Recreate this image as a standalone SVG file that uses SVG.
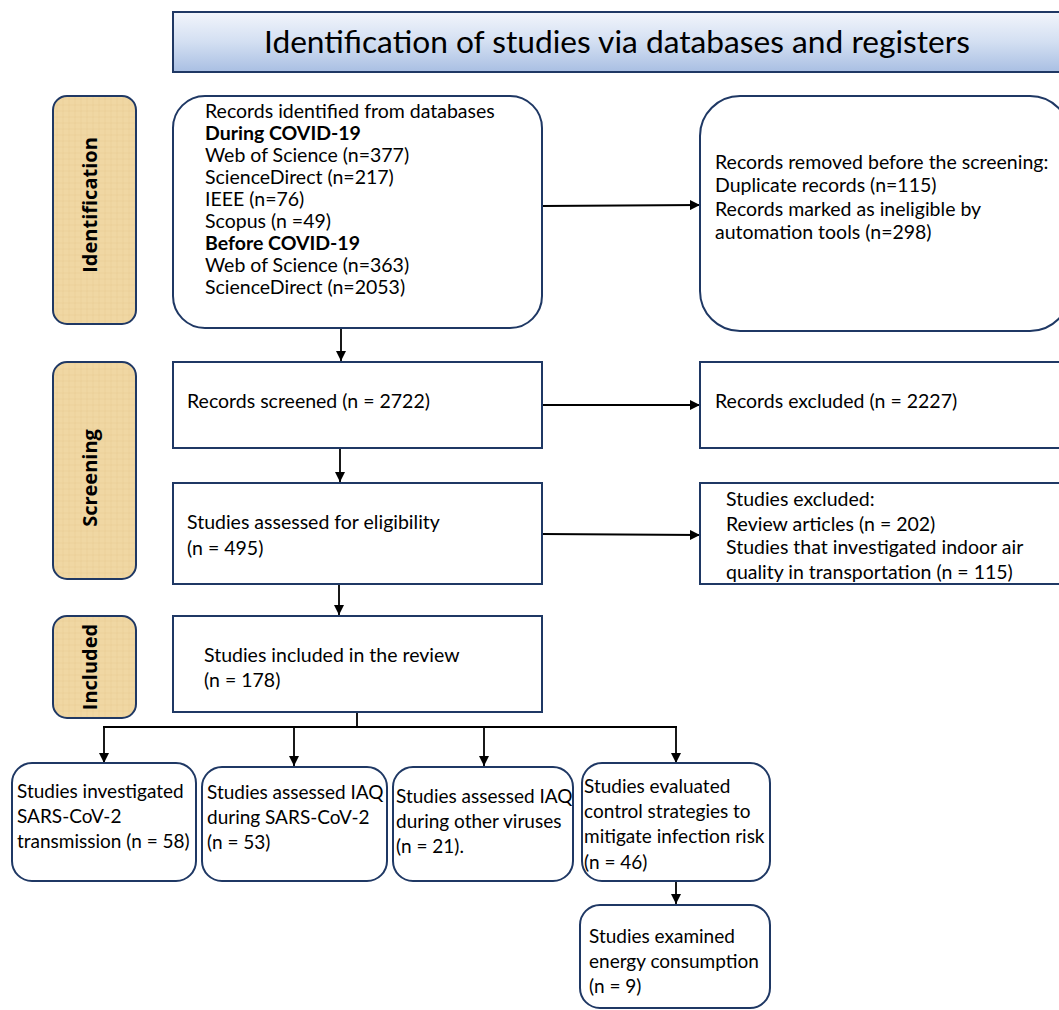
<svg xmlns="http://www.w3.org/2000/svg" width="1059" height="1010" viewBox="0 0 1059 1010">
<defs>
<linearGradient id="titleGrad" x1="0" y1="0" x2="0" y2="1">
<stop offset="0" stop-color="#f2f5fb"/>
<stop offset="0.5" stop-color="#d3dff2"/>
<stop offset="1" stop-color="#a9bfe3"/>
</linearGradient>
<pattern id="papyrus" width="6" height="6" patternUnits="userSpaceOnUse">
<rect width="6" height="6" fill="#f0d7a3"/>
<path d="M0 3H6M3 0V6" stroke="#e6c98e" stroke-width="0.8" opacity="0.6"/>
</pattern>
<marker id="arrow" viewBox="0 0 10 10" refX="10" refY="5" markerWidth="10" markerHeight="10" markerUnits="userSpaceOnUse" orient="auto">
<path d="M0 0L10 5L0 10Z" fill="#000"/>
</marker>
</defs>
<style>
.box{fill:#fff;stroke:#1f3864;stroke-width:2}
.phase{fill:url(#papyrus);stroke:#1f3864;stroke-width:2}
.t{font-family:Lato,"Open Sans","Liberation Sans",sans-serif;font-size:19.5px;fill:#000}
.s{font-size:19px}
.b{font-weight:bold}
.ph{font-family:"Open Sans",Lato,"Liberation Sans",sans-serif;font-size:20px;font-weight:bold;fill:#000}
.conn{stroke:#000;stroke-width:1.8;fill:none}
</style>
<rect width="1059" height="1010" fill="#fff"/>

<g id="title">
<rect x="173" y="12" width="900" height="60" fill="url(#titleGrad)" stroke="#1f3864" stroke-width="2"/>
<text x="617" y="53" text-anchor="middle" font-family="Lato,'Open Sans','Liberation Sans',sans-serif" font-size="31.7">Identification of studies via databases and registers</text>
</g>

<g id="phase-identification">
<rect class="phase" x="53" y="96" width="83" height="228" rx="14"/>
<text class="ph" transform="translate(97 205) rotate(-90)" text-anchor="middle">Identification</text>
</g>
<g id="phase-screening">
<rect class="phase" x="53" y="362" width="83" height="217" rx="14"/>
<text class="ph" transform="translate(97 478) rotate(-90)" text-anchor="middle">Screening</text>
</g>
<g id="phase-included">
<rect class="phase" x="53" y="616" width="83" height="102" rx="14"/>
<text class="ph" transform="translate(97 667) rotate(-90)" text-anchor="middle">Included</text>
</g>

<g id="connectors">
<line class="conn" x1="542" y1="206" x2="700" y2="205" marker-end="url(#arrow)"/>
<line class="conn" x1="341" y1="329" x2="341" y2="361" marker-end="url(#arrow)"/>
<line class="conn" x1="542" y1="405" x2="700" y2="405" marker-end="url(#arrow)"/>
<line class="conn" x1="340" y1="448" x2="340" y2="482" marker-end="url(#arrow)"/>
<line class="conn" x1="542" y1="534" x2="700" y2="535" marker-end="url(#arrow)"/>
<line class="conn" x1="339" y1="585" x2="339" y2="615" marker-end="url(#arrow)"/>
<polyline class="conn" points="357,712 357,727"/>
<line class="conn" x1="103" y1="727" x2="677" y2="727"/>
<line class="conn" x1="104" y1="727" x2="104" y2="763" marker-end="url(#arrow)"/>
<line class="conn" x1="294" y1="727" x2="294" y2="766" marker-end="url(#arrow)"/>
<line class="conn" x1="484" y1="727" x2="484" y2="766" marker-end="url(#arrow)"/>
<line class="conn" x1="676" y1="727" x2="676" y2="763" marker-end="url(#arrow)"/>
<line class="conn" x1="676" y1="882" x2="676" y2="904" marker-end="url(#arrow)"/>
</g>

<g id="records-identified">
<rect class="box" x="173" y="96" width="369" height="232" rx="32"/>
<text class="t" x="205" y="118">Records identified from databases</text>
<text class="t b" x="205" y="140">During COVID-19</text>
<text class="t" x="205" y="162">Web of Science (n=377)</text>
<text class="t" x="205" y="184">ScienceDirect (n=217)</text>
<text class="t" x="205" y="206">IEEE (n=76)</text>
<text class="t" x="205" y="228">Scopus (n =49)</text>
<text class="t b" x="205" y="250">Before COVID-19</text>
<text class="t" x="205" y="272">Web of Science (n=363)</text>
<text class="t" x="205" y="294">ScienceDirect (n=2053)</text>
</g>

<g id="records-removed">
<rect class="box" x="700" y="96" width="370" height="235" rx="40"/>
<text class="t" x="715" y="169">Records removed before the screening:</text>
<text class="t" x="715" y="192">Duplicate records (n=115)</text>
<text class="t" x="715" y="216">Records marked as ineligible by</text>
<text class="t" x="715" y="239">automation tools (n=298)</text>
</g>

<g id="records-screened">
<rect class="box" x="173" y="362" width="369" height="86"/>
<text class="t" x="187" y="408">Records screened (n = 2722)</text>
</g>

<g id="records-excluded">
<rect class="box" x="700" y="362" width="370" height="86"/>
<text class="t" x="715" y="408">Records excluded (n = 2227)</text>
</g>

<g id="studies-assessed">
<rect class="box" x="173" y="483" width="369" height="101"/>
<text class="t" x="187" y="529">Studies assessed for eligibility</text>
<text class="t" x="187" y="555">(n = 495)</text>
</g>

<g id="studies-excluded">
<rect class="box" x="700" y="483" width="370" height="101"/>
<text class="t" x="726" y="506">Studies excluded:</text>
<text class="t" x="726" y="531">Review articles (n = 202)</text>
<text class="t" x="726" y="554">Studies that investigated indoor air</text>
<text class="t" x="726" y="579">quality in transportation (n = 115)</text>
</g>

<g id="studies-included">
<rect class="box" x="173" y="616" width="369" height="96"/>
<text class="t" x="204" y="662">Studies included in the review</text>
<text class="t" x="204" y="687">(n = 178)</text>
</g>

<g id="sars-transmission">
<rect class="box" x="12" y="763" width="184" height="118" rx="20"/>
<text class="t s" x="17" y="798">Studies investigated</text>
<text class="t s" x="17" y="823">SARS-CoV-2</text>
<text class="t s" x="17" y="848">transmission (n = 58)</text>
</g>

<g id="iaq-sars">
<rect class="box" x="202" y="767" width="185" height="114" rx="20"/>
<text class="t s" x="207" y="799">Studies assessed IAQ</text>
<text class="t s" x="207" y="824">during SARS-CoV-2</text>
<text class="t s" x="207" y="849">(n = 53)</text>
</g>

<g id="iaq-other">
<rect class="box" x="393" y="767" width="180" height="114" rx="20"/>
<text class="t s" x="396" y="803">Studies assessed IAQ</text>
<text class="t s" x="396" y="828">during other viruses</text>
<text class="t s" x="396" y="853">(n = 21).</text>
</g>

<g id="control-strategies">
<rect class="box" x="582" y="763" width="188" height="118" rx="20"/>
<text class="t s" x="584" y="793">Studies evaluated</text>
<text class="t s" x="584" y="818">control strategies to</text>
<text class="t s" x="584" y="843">mitigate infection risk</text>
<text class="t s" x="584" y="869">(n = 46)</text>
</g>

<g id="energy-consumption">
<rect class="box" x="580" y="905" width="190" height="103" rx="20"/>
<text class="t s" x="589" y="943">Studies examined</text>
<text class="t s" x="589" y="968">energy consumption</text>
<text class="t s" x="589" y="993">(n = 9)</text>
</g>
</svg>
